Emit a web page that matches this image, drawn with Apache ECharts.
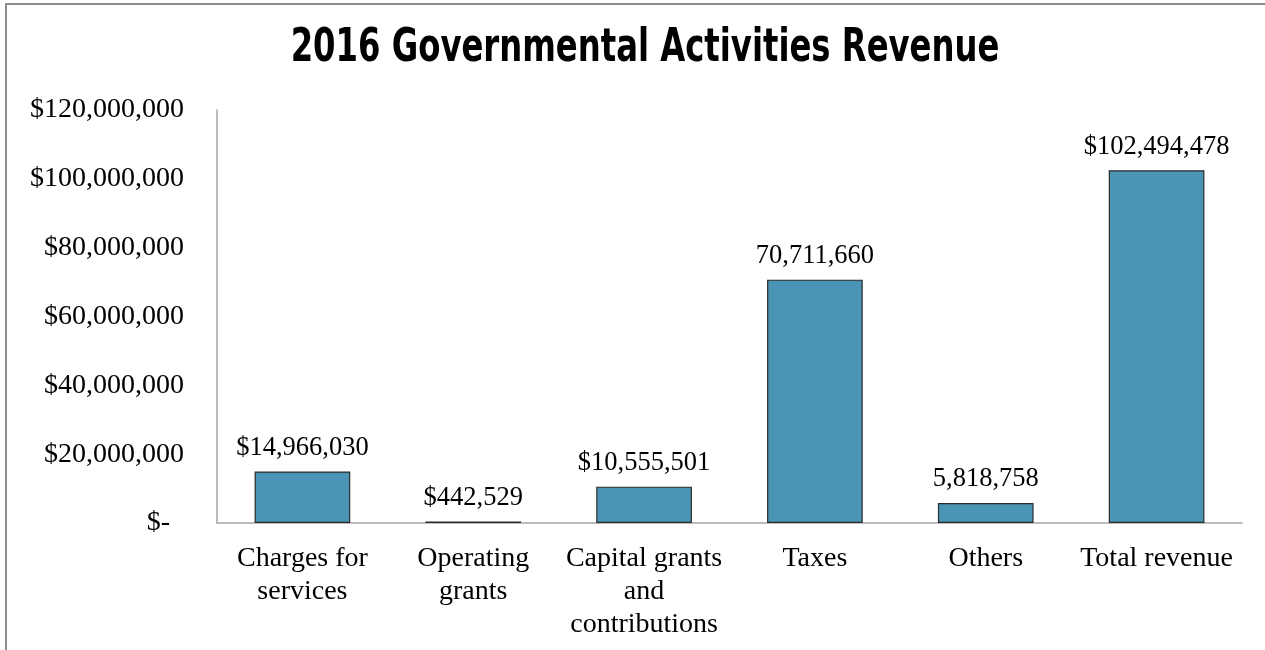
<!DOCTYPE html>
<html>
<head>
<meta charset="utf-8">
<script src="https://cdn.jsdelivr.net/npm/echarts@6/dist/echarts.min.js"></script>
<style>
  html, body { margin: 0; padding: 0; background: #fff; }
  #chart { width: 1265px; height: 650px; }
</style>
</head>
<body>
<div id="chart"></div>
<script>
// Revenue sources for governmental activities, 2016
const categories = [
  'Charges for\nservices',
  'Operating\ngrants',
  'Capital grants\nand\ncontributions',
  'Taxes',
  'Others',
  'Total revenue'
];
const revenue = [14966030, 442529, 10555501, 70711660, 5818758, 102494478];
// whether each value label carries a dollar sign
const dollarLabel = [true, true, true, false, false, true];
const yTicks = { min: 0, max: 120000000, interval: 20000000 };
const titleText = '2016 Governmental Activities Revenue';

const serif = "'Liberation Serif', 'Times New Roman', serif";
const fmt = n => n.toLocaleString('en-US');

const chart = echarts.init(document.getElementById('chart'));
chart.setOption({
  animation: false,
  backgroundColor: '#fff',
  graphic: [
    {
      type: 'rect',
      shape: { x: 6, y: 4, width: 1275, height: 660 },
      style: { fill: 'none', stroke: '#8c8c8c', lineWidth: 2 },
      silent: true
    },
    {
      // condensed bold heading, narrowed horizontally
      type: 'text',
      x: 645,
      y: 26,
      scaleX: 0.78,
      style: {
        text: titleText,
        textAlign: 'center',
        textVerticalAlign: 'top',
        fontFamily: "'DejaVu Sans Condensed', 'DejaVu Sans', sans-serif",
        fontWeight: 'bold',
        fontSize: 46,
        fill: '#000'
      },
      silent: true
    }
  ],
  grid: { left: 217, right: 23, top: 110, bottom: 127, containLabel: false },
  xAxis: {
    type: 'category',
    data: categories,
    axisLine: { lineStyle: { color: '#a6a6a6', width: 1.5 } },
    axisTick: { show: false },
    axisLabel: {
      interval: 0,
      margin: 19,
      fontFamily: serif,
      fontSize: 28,
      lineHeight: 33,
      color: '#000'
    }
  },
  yAxis: {
    type: 'value',
    min: yTicks.min,
    max: yTicks.max,
    interval: yTicks.interval,
    axisLine: { show: true, lineStyle: { color: '#a6a6a6', width: 1.5 } },
    axisTick: { show: false },
    splitLine: { show: false },
    axisLabel: {
      margin: 33,
      fontFamily: serif,
      fontSize: 28,
      color: '#000',
      formatter: v => v === 0 ? '$-  ' : '$' + fmt(v)
    }
  },
  series: [{
    type: 'bar',
    data: revenue,
    barWidth: '56%',
    itemStyle: { color: '#4a95b5', borderColor: '#2b2b2b', borderWidth: 1.2 },
    label: {
      show: true,
      position: 'top',
      distance: 10,
      fontFamily: serif,
      fontSize: 26.5,
      color: '#000',
      formatter: p => (dollarLabel[p.dataIndex] ? '$' : '') + fmt(p.value)
    }
  }]
});
</script>
</body>
</html>
